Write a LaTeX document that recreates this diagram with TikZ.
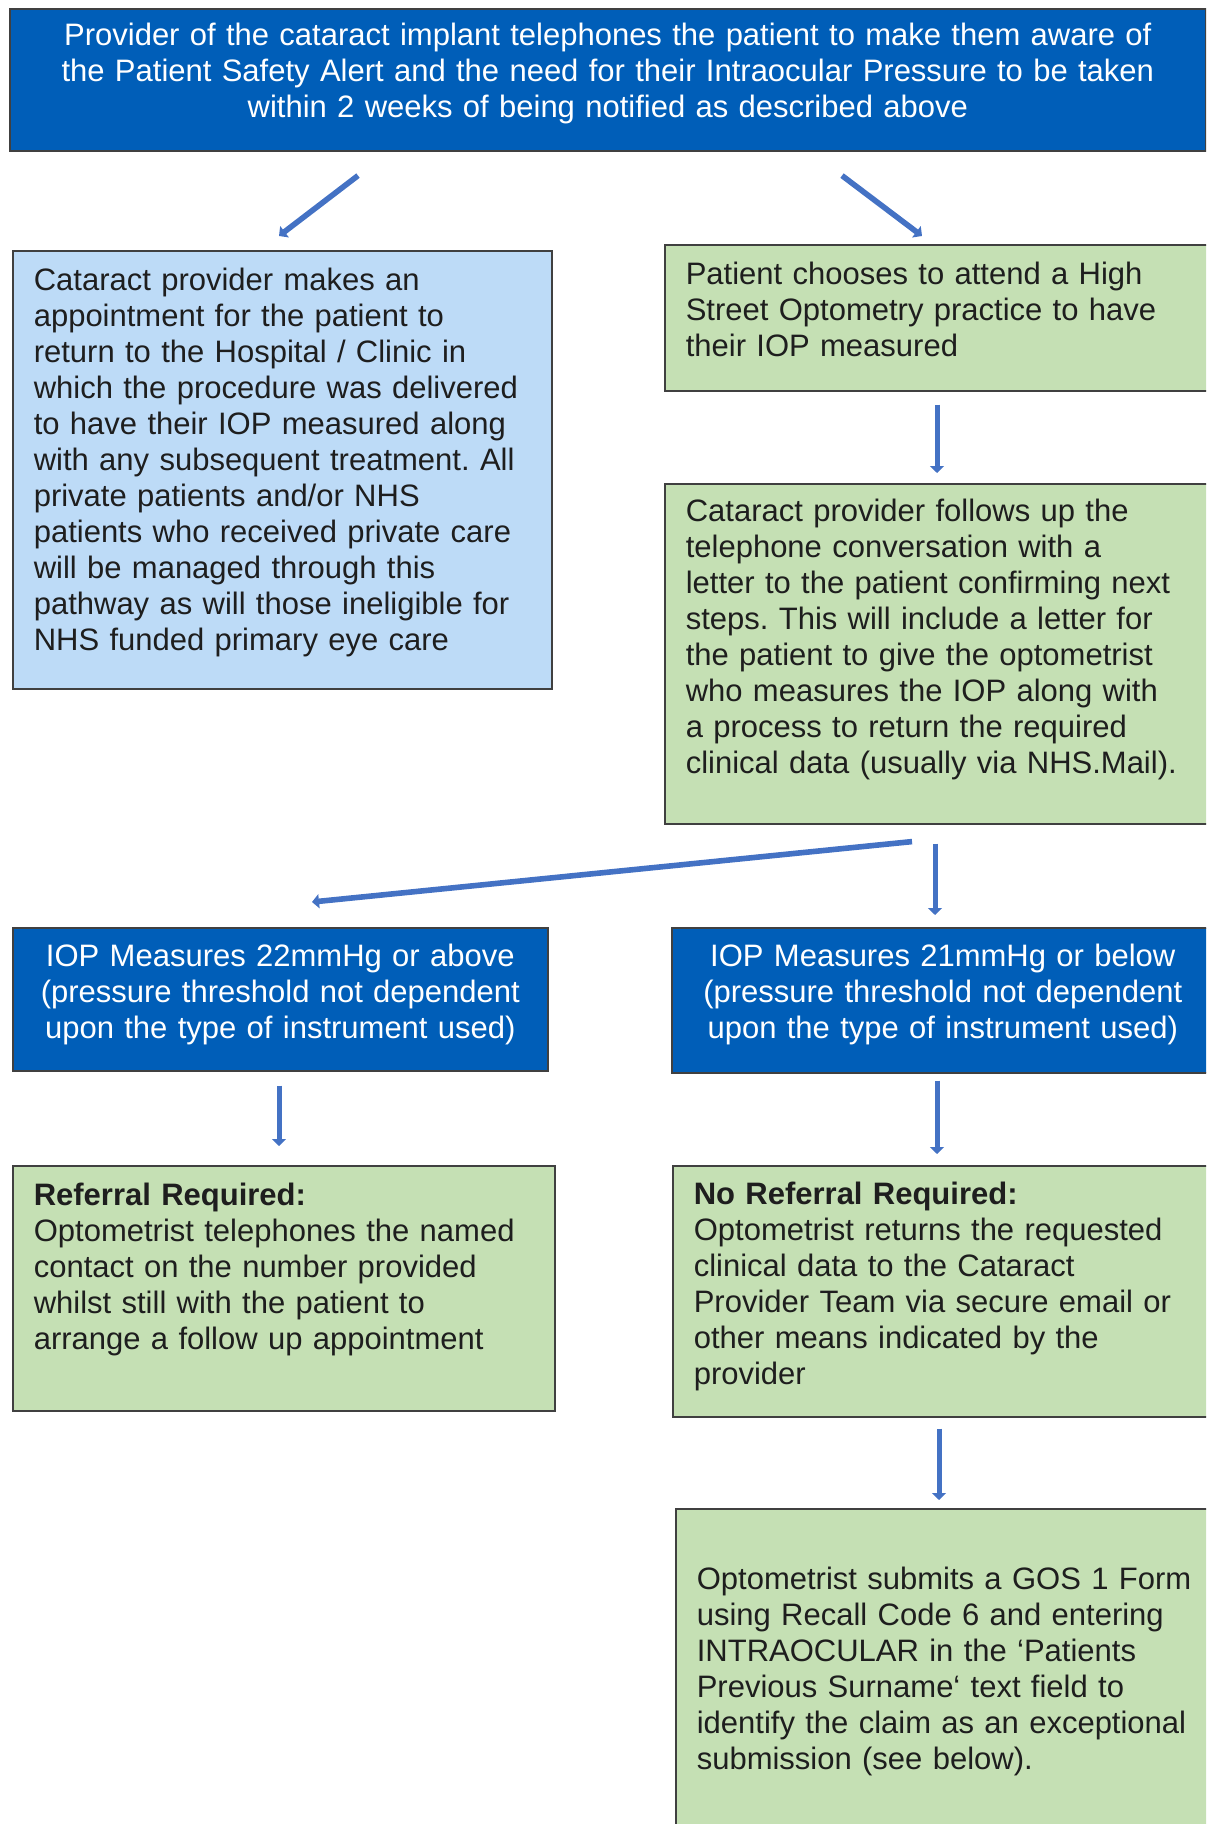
\documentclass[tikz,border=0pt]{standalone}
\usepackage{fontspec}
\setmainfont{Liberation Sans}
\usetikzlibrary{calc}
\usetikzlibrary{arrows.meta}
\frenchspacing

\definecolor{nhsblue}{RGB}{0,94,184}
\definecolor{paleblue}{RGB}{189,219,247}
\definecolor{palegreen}{RGB}{197,224,180}
\definecolor{arrowblue}{RGB}{68,114,196}
\definecolor{boxline}{RGB}{64,64,64}
\definecolor{ink}{RGB}{30,30,30}

\begin{document}
\begin{tikzpicture}[x=0.5pt, y=-0.5pt,
		box/.style={draw=boxline, line width=0.8pt, anchor=north west, inner xsep=10.5pt, inner ysep=0pt,
			font=\fontsize{15.5pt}{18pt}\selectfont},
		darkbox/.style={box, fill=nhsblue, text=white, align=center},
		bluebox/.style={box, fill=paleblue, text=ink, align=left},
		greenbox/.style={box, fill=palegreen, text=ink, align=left},
		arr/.style={draw=arrowblue, line width=2.5pt, -{Triangle[length=3.5pt, width=7pt]}}]

	\useasboundingbox (0,0) rectangle (1206,1824);
	\clip (0,0) rectangle (1206,1824);

	% boxes
	\node[darkbox, text width=577pt, text height=18.5pt, text depth=52.5pt] (alert) at (9,8)
		{Provider of the cataract implant telephones the patient to make them aware of\\
		the Patient Safety Alert and the need for their Intraocular Pressure to be taken\\
		within 2 weeks of being notified as described above};
	\node[bluebox, text width=248.5pt, text height=20pt, text depth=199pt] (hosp) at (12,250)
		{Cataract provider makes an\\
		appointment for the patient to\\
		return to the Hospital / Clinic in\\
		which the procedure was delivered\\
		to have their IOP measured along\\
		with any subsequent treatment. All\\
		private patients and/or NHS\\
		patients who received private care\\
		will be managed through this\\
		pathway as will those ineligible for\\
		NHS funded primary eye care};
	\node[greenbox, text width=262pt, text height=20pt, text depth=53pt] (hsopt) at (664,244)
		{Patient chooses to attend a High\\
		Street Optometry practice to have\\
		their IOP measured};
	\node[greenbox, text width=262pt, text height=19pt, text depth=151pt] (letter) at (664,483)
		{Cataract provider follows up the\\
		telephone conversation with a\\
		letter to the patient confirming next\\
		steps. This will include a letter for\\
		the patient to give the optometrist\\
		who measures the IOP along with\\
		a process to return the required\\
		clinical data (usually via NHS.Mail).};
	\node[darkbox, text width=246.5pt, text height=19.5pt, text depth=52pt] (high) at (12,927)
		{IOP Measures 22mmHg or above\\
		(pressure threshold not dependent\\
		upon the type of instrument used)};
	\node[darkbox, text width=250pt, text height=19.5pt, text depth=53pt] (low) at (671,927)
		{IOP Measures 21mmHg or below\\
		(pressure threshold not dependent\\
		upon the type of instrument used)};
	\node[greenbox, text width=250pt, text height=20pt, text depth=102.5pt] (refer) at (12,1165)
		{\textbf{Referral Required:}\\
		Optometrist telephones the named\\
		contact on the number provided\\
		whilst still with the patient to\\
		arrange a follow up appointment};
	\node[greenbox, text width=262pt, text height=19.5pt, text depth=106pt] (noref) at (672,1165)
		{\textbf{No Referral Required:}\\
		Optometrist returns the requested\\
		clinical data to the Cataract\\
		Provider Team via secure email or\\
		other means indicated by the\\
		provider};
	\node[greenbox, text width=262pt, text height=40.5pt, text depth=122pt] (gos) at (675,1508)
		{Optometrist submits a GOS 1 Form\\
		using Recall Code 6 and entering\\
		INTRAOCULAR in the ‘Patients\\
		Previous Surname‘ text field to\\
		identify the claim as an exceptional\\
		submission (see below).};

	% arrows
	\draw[arr, line width=2.8pt] ($(alert.south west)+(349,24)$) -- ($(hosp.north west)+(267,-14)$);
	\draw[arr, line width=2.8pt] ($(alert.south west)+(833,24)$) -- ($(hsopt.north west)+(258,-8)$);
	\draw[arr] ($(hsopt.south west)+(273,13)$) -- ($(letter.north west)+(273,-10)$);
	\draw[arr, line width=2.8pt] ($(letter.south west)+(248,17)$) -- ($(high.north west)+(300,-25)$);
	\draw[arr] ($(letter.south west)+(271,19)$) -- ($(low.north west)+(264,-12)$);
	\draw[arr] ($(high.south west)+(267,14)$) -- ($(refer.north west)+(267,-19)$);
	\draw[arr] ($(low.south west)+(266,7)$) -- ($(noref.north west)+(265,-11)$);
	\draw[arr] ($(noref.south west)+(267,11)$) -- ($(gos.north west)+(264,-8)$);
\end{tikzpicture}
\end{document}
